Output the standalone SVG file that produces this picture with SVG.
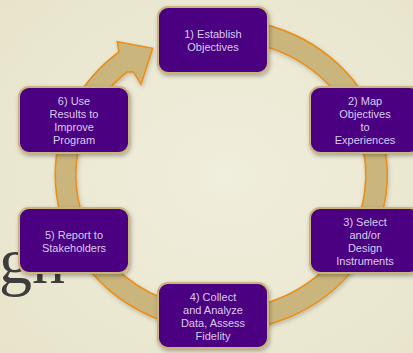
<svg xmlns="http://www.w3.org/2000/svg" width="413" height="353" viewBox="0 0 413 353">
  <defs>
    <radialGradient id="bg" cx="0.55" cy="0.5" r="0.75">
      <stop offset="0" stop-color="#f0eedc"/>
      <stop offset="1" stop-color="#e8e4cb"/>
    </radialGradient>
    <filter id="sh" x="-20%" y="-20%" width="140%" height="140%">
      <feDropShadow dx="1" dy="2" stdDeviation="2" flood-color="#000" flood-opacity="0.3"/>
    </filter>
    <filter id="shr" x="-10%" y="-10%" width="120%" height="120%">
      <feDropShadow dx="1" dy="2" stdDeviation="2" flood-color="#000" flood-opacity="0.2"/>
    </filter>
  </defs>
  <style>
    .box { fill: #4b0082; stroke: #c9b47c; stroke-width: 2; filter: url(#sh); }
    .lbl { font-family: "Liberation Sans", Arial, sans-serif; font-size: 11px; fill: #dacbef; text-anchor: middle; }
    .ring { fill: #cab67b; stroke: #e88f1c; stroke-width: 1.6; stroke-linejoin: miter; filter: url(#shr); }
  </style>
  <rect width="413" height="353" fill="url(#bg)"/>
  <text x="-1" y="283" font-family="Liberation Serif, 'Times New Roman', serif" font-size="66" fill="#3d3d3d">gn</text>

  <g id="connectors">
    <path class="ring" d="M 190,21.7 A 166 156 0 1 1 119,52 L 117.3,41.7 L 152.7,48.3 L 141,84.3 L 133.3,71.7 L 127,72 A 145 135 0 1 0 190,43 Z"/>
  </g>

  <g id="node1">
    <rect class="box" x="158" y="7" width="110" height="66" rx="10"/>
    <text class="lbl" x="213" y="38">1) Establish</text>
    <text class="lbl" x="213" y="51">Objectives</text>
  </g>
  <g id="node2">
    <rect class="box" x="310" y="87" width="110" height="66" rx="10"/>
    <text class="lbl" x="365" y="105">2) Map</text>
    <text class="lbl" x="365" y="118">Objectives</text>
    <text class="lbl" x="365" y="131">to</text>
    <text class="lbl" x="365" y="144">Experiences</text>
  </g>
  <g id="node3">
    <rect class="box" x="310" y="208" width="110" height="65" rx="10"/>
    <text class="lbl" x="365" y="226">3) Select</text>
    <text class="lbl" x="365" y="239">and/or</text>
    <text class="lbl" x="365" y="252">Design</text>
    <text class="lbl" x="365" y="265">Instruments</text>
  </g>
  <g id="node4">
    <rect class="box" x="158" y="283" width="110" height="65" rx="10"/>
    <text class="lbl" x="213" y="301">4) Collect</text>
    <text class="lbl" x="213" y="314">and Analyze</text>
    <text class="lbl" x="213" y="327">Data, Assess</text>
    <text class="lbl" x="213" y="340">Fidelity</text>
  </g>
  <g id="node5">
    <rect class="box" x="19" y="208" width="110" height="65" rx="10"/>
    <text class="lbl" x="74" y="239">5) Report to</text>
    <text class="lbl" x="74" y="252">Stakeholders</text>
  </g>
  <g id="node6">
    <rect class="box" x="19" y="87" width="110" height="66" rx="10"/>
    <text class="lbl" x="74" y="105">6) Use</text>
    <text class="lbl" x="74" y="118">Results to</text>
    <text class="lbl" x="74" y="131">Improve</text>
    <text class="lbl" x="74" y="144">Program</text>
  </g>
</svg>
